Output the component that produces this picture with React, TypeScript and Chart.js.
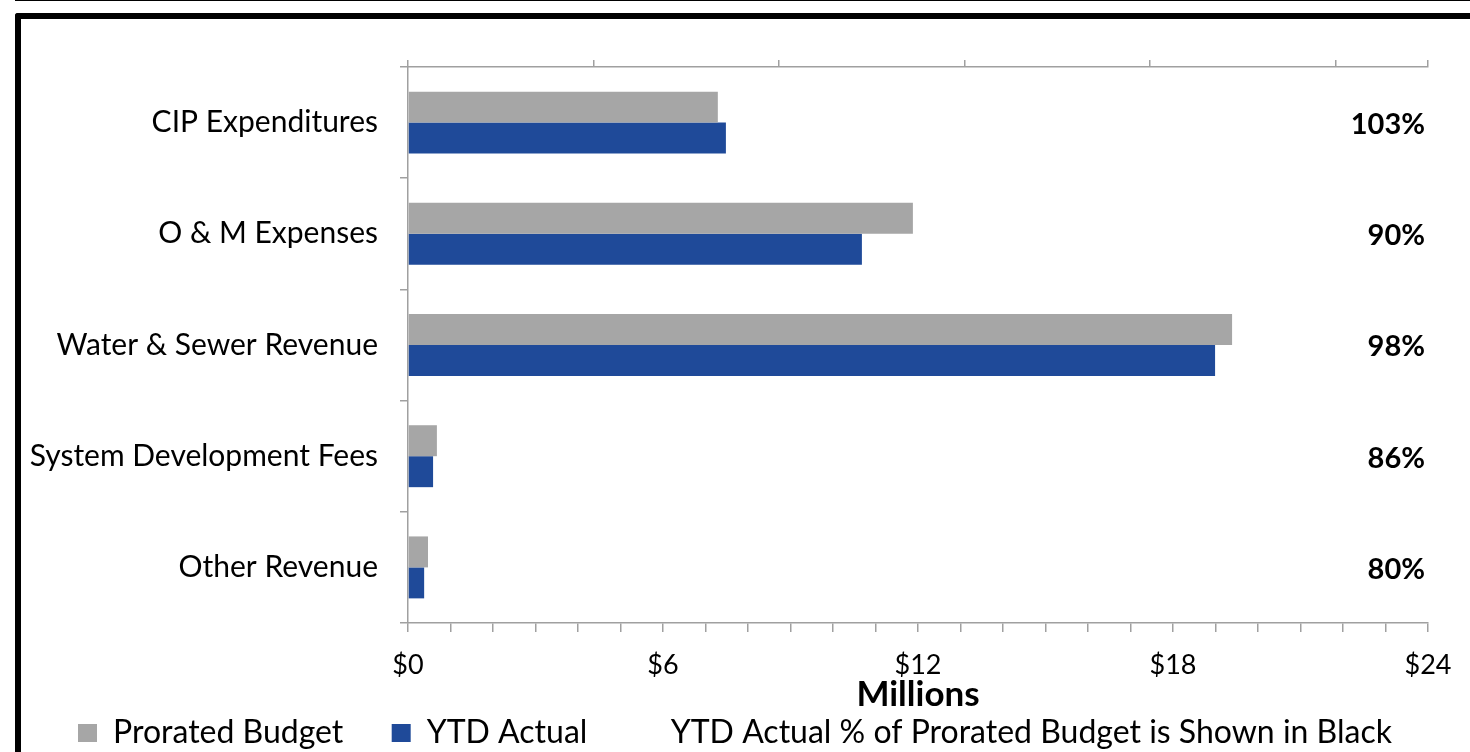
import React, { useEffect, useRef } from 'react';
import { Chart, registerables } from 'chart.js';

Chart.register(...registerables);

const categories = [
  'CIP Expenditures',
  'O & M Expenses',
  'Water & Sewer Revenue',
  'System Development Fees',
  'Other Revenue',
];
const proratedBudget = [7.29, 11.88, 19.39, 0.68, 0.47];
const ytdActual = [7.48, 10.68, 18.99, 0.59, 0.38];
const pctLabels = ['103%', '90%', '98%', '86%', '80%'];

const FONT = 'Lato, "Open Sans", sans-serif';
const AXIS_GRAY = '#a0a0a0';

// percent text in the right part of each row
const pctPlugin = {
  id: 'pctLabels',
  afterDatasetsDraw(chart: any) {
    const { ctx, chartArea, scales } = chart;
    ctx.save();
    ctx.font = `bold 29px ${FONT}`;
    ctx.fillStyle = '#000';
    ctx.textAlign = 'right';
    ctx.textBaseline = 'middle';
    pctLabels.forEach((t, i) => {
      ctx.fillText(t, chartArea.right - 3, scales.y.getPixelForValue(i) + 2);
    });
    ctx.restore();
  },
};

const App: React.FC = () => {
  const canvasRef = useRef<HTMLCanvasElement>(null);
  const chartRef = useRef<Chart | null>(null);

  useEffect(() => {
    document.body.style.margin = '0';
    if (!canvasRef.current) return;
    if (chartRef.current) chartRef.current.destroy();

    chartRef.current = new Chart(canvasRef.current, {
      type: 'bar',
      data: {
        labels: categories,
        datasets: [
          {
            label: 'Prorated Budget',
            data: proratedBudget,
            backgroundColor: '#a6a6a6',
            categoryPercentage: 0.557,
            barPercentage: 1,
          },
          {
            label: 'YTD Actual',
            data: ytdActual,
            backgroundColor: '#1f4a99',
            categoryPercentage: 0.557,
            barPercentage: 1,
          },
        ],
      },
      options: {
        indexAxis: 'y',
        animation: false,
        responsive: true,
        maintainAspectRatio: false,
        layout: { padding: 0 },
        scales: {
          x: {
            position: 'bottom',
            min: 0,
            max: 24,
            ticks: {
              stepSize: 1,
              autoSkip: false,
              maxRotation: 0,
              padding: 17,
              color: '#000',
              font: { family: FONT, size: 27 },
              callback: (v: any) => (Number(v) % 6 === 0 ? '$' + v : ''),
            },
            grid: {
              drawOnChartArea: false,
              tickLength: 9,
              color: AXIS_GRAY,
              lineWidth: 1.5,
            },
            border: { color: AXIS_GRAY, width: 1.5 },
            title: {
              display: true,
              text: 'Millions',
              color: '#000',
              font: { family: FONT, size: 35, weight: 'bold' },
              padding: { top: 0, bottom: -31 },
            },
            afterFit: (s: any) => {
              s.height = 62;
            },
          },
          x2: {
            position: 'top',
            min: 0,
            max: 110,
            ticks: { stepSize: 20, display: false },
            grid: {
              drawOnChartArea: false,
              tickLength: 7,
              color: AXIS_GRAY,
              lineWidth: 1.5,
            },
            border: { color: AXIS_GRAY, width: 1.5 },
            afterFit: (s: any) => {
              s.height = 67;
            },
          },
          y: {
            position: 'left',
            offset: true,
            ticks: {
              padding: 22,
              color: '#000',
              font: { family: FONT, size: 30 },
            },
            grid: {
              offset: true,
              drawOnChartArea: false,
              tickLength: 8,
              color: AXIS_GRAY,
              lineWidth: 1.5,
            },
            border: { color: AXIS_GRAY, width: 1.5 },
            afterFit: (s: any) => {
              s.width = 408;
            },
          },
          yRight: {
            type: 'category',
            position: 'right',
            display: true,
            ticks: { display: false },
            grid: { display: false },
            border: { display: false },
            afterFit: (s: any) => {
              s.width = 42;
            },
          },
        },
        plugins: {
          legend: {
            position: 'bottom',
            labels: {
              color: '#000',
              font: { family: FONT, size: 32 },
              boxWidth: 19,
              boxHeight: 18,
              padding: 32,
              generateLabels: (chart: any) => {
                const items = Chart.defaults.plugins.legend.labels.generateLabels(chart);
                items.forEach((it: any) => {
                  it.text = it.text + '  ';
                  it.lineWidth = 0;
                  it.strokeStyle = 'rgba(0,0,0,0)';
                });
                items.push({
                  text: 'YTD Actual % of Prorated Budget is Shown in Black',
                  fillStyle: 'rgba(0,0,0,0)',
                  strokeStyle: 'rgba(0,0,0,0)',
                  lineWidth: 0,
                  hidden: false,
                  datasetIndex: -1,
                } as any);
                return items;
              },
            },
            onClick: () => {},
          },
          tooltip: { enabled: false },
        },
      },
      plugins: [pctPlugin],
    });

    return () => {
      if (chartRef.current) {
        chartRef.current.destroy();
        chartRef.current = null;
      }
    };
  }, []);

  return (
    <div
      style={{
        position: 'relative',
        width: 1470,
        height: 752,
        overflow: 'hidden',
        background: '#fff',
      }}
    >
      <div style={{ position: 'absolute', left: 15, top: 0, right: 0, height: 1, background: '#000' }} />
      <div
        style={{
          position: 'absolute',
          left: 15,
          top: 13,
          width: 1500,
          height: 800,
          borderTop: '6px solid #000',
          borderLeft: '6px solid #000',
          borderTopLeftRadius: 3,
        }}
      />
      <div style={{ position: 'absolute', left: 0, top: 0, width: 1470, height: 759 }}>
        <canvas ref={canvasRef} />
      </div>
    </div>
  );
};

export default App;
